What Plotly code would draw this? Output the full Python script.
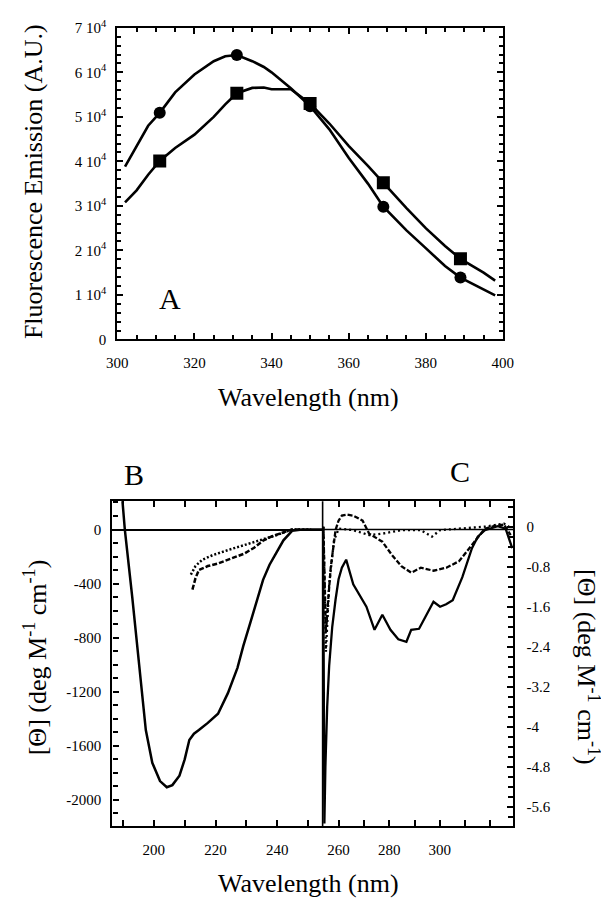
import plotly.graph_objects as go

# ---------------- Panel A data (fluorescence emission) ----------------
wl_curve = [302, 305, 308, 311, 315, 320, 325, 328, 331, 335, 338, 340, 345, 350,
            355, 360, 365, 369, 375, 380, 385, 389, 395, 398]
em_circle_curve = [3.88, 4.35, 4.80, 5.09, 5.55, 5.95, 6.25, 6.36, 6.39, 6.25, 6.12, 6.00, 5.64, 5.24,
                   4.72, 4.08, 3.50, 2.98, 2.45, 2.05, 1.65, 1.39, 1.12, 0.99]
em_square_curve = [3.08, 3.35, 3.70, 4.01, 4.30, 4.60, 5.00, 5.28, 5.53, 5.65, 5.66, 5.62, 5.62, 5.30,
                   4.85, 4.35, 3.90, 3.52, 2.95, 2.50, 2.10, 1.81, 1.50, 1.32]
wl_markers = [311, 331, 350, 369, 389]
em_circle_pts = [5.09, 6.39, 5.24, 2.98, 1.39]
em_square_pts = [4.01, 5.53, 5.30, 3.52, 1.81]
a_ytick_vals = [0, 1, 2, 3, 4, 5, 6, 7]
a_ytick_text = ["0"] + [f"{v} 10<sup>4</sup>" for v in range(1, 8)]

# ---------------- Panel B data (far-UV CD) ----------------
b_solid_wl = [189.8, 190.6, 193.0, 195.5, 197.4, 199.5, 202.0, 204.2, 206.0, 208.3, 210.0,
              211.5, 213.0, 214.6, 217.5, 220.8, 224.0, 227.1, 229.0, 231.3, 233.5, 235.4,
              237.5, 239.6, 242.0, 244.8, 248.0, 251.0, 254.5]
b_solid_th = [220, 0, -500, -1050, -1483, -1725, -1860, -1906, -1890, -1820, -1700,
              -1556, -1510, -1483, -1430, -1362, -1210, -1023, -860, -686, -510, -372,
              -260, -179, -80, -10, 0, 0, 0]
b_dot_wl = [212.0, 213.5, 215.6, 219.0, 224.0, 228.0, 232.3, 236.0, 239.6, 242.5, 244.8, 248.0, 251.0]
b_dot_th = [-333, -270, -225, -190, -152, -125, -94, -68, -43, -18, 0, 0, 0]
b_dash_wl = [212.5, 213.5, 214.6, 217.5, 220.8, 225.0, 229.2, 232.5, 235.4, 238.5, 241.6, 244.8, 248.0]
b_dash_th = [-444, -360, -299, -270, -251, -215, -179, -135, -82, -48, -22, 0, 0]

# ---------------- Panel C data (near-UV CD) ----------------
c_solid_wl = [253.9, 254.2, 254.4, 254.8, 255.5, 256.3, 257.5, 258.8, 260.0, 261.3, 263.0, 265.8,
              268.5, 271.0, 274.2, 277.3, 280.5, 283.6, 286.8, 288.7, 291.8, 294.4, 297.5,
              300.1, 302.5, 305.1, 308.9, 312.7, 315.0, 317.8, 322.9, 326.0, 328.6]
c_solid_th = [0.0, -2.5, -5.93, -4.8, -3.6, -2.77, -2.0, -1.46, -1.05, -0.82, -0.66, -1.15,
              -1.38, -1.60, -2.06, -1.76, -2.06, -2.25, -2.30, -2.06, -2.04, -1.80, -1.50,
              -1.60, -1.55, -1.47, -1.01, -0.43, -0.20, -0.07, 0.01, -0.04, -0.43]
c_dash_wl = [254.0, 254.5, 255.0, 256.0, 256.9, 258.8, 260.0, 261.3, 263.5, 265.8, 269.5, 272.1,
             277.3, 281.0, 284.8, 288.7, 292.5, 297.5, 302.6, 307.6, 312.7, 317.8, 322.0,
             325.4, 328.0]
c_dash_th = [0.0, -1.2, -2.12, -1.40, -0.82, -0.07, 0.12, 0.22, 0.24, 0.22, 0.12, -0.14,
             -0.30, -0.56, -0.79, -0.92, -0.82, -0.88, -0.82, -0.69, -0.36, -0.04, 0.02,
             0.04, -0.17]
c_dot_wl = [254.0, 254.5, 255.0, 256.3, 258.2, 260.1, 265.8, 272.1, 277.3, 284.8, 292.5, 296.9,
            300.1, 307.6, 317.8, 325.4, 327.3]
c_dot_th = [0.0, -1.4, -2.5, -1.15, -0.27, -0.04, -0.07, -0.17, -0.14, -0.07, -0.07, -0.20,
            -0.07, -0.04, 0.0, 0.06, 0.0]
c_ytick_vals = [0, -0.8, -1.6, -2.4, -3.2, -4, -4.8, -5.6]
c_ytick_text = ["0", "-0.8", "-1.6", "-2.4", "-3.2", "-4", "-4.8", "-5.6"]

W, H = 609, 899
FONT = "Liberation Serif, DejaVu Serif, serif"
BLK = "black"

fig = go.Figure()

# Panel A
fig.add_trace(go.Scatter(x=wl_curve, y=[v * 1e4 for v in em_circle_curve], mode="lines",
                         line=dict(color=BLK, width=2.6), xaxis="x", yaxis="y", showlegend=False))
fig.add_trace(go.Scatter(x=wl_curve, y=[v * 1e4 for v in em_square_curve], mode="lines",
                         line=dict(color=BLK, width=2.6), xaxis="x", yaxis="y", showlegend=False))
fig.add_trace(go.Scatter(x=wl_markers, y=[v * 1e4 for v in em_circle_pts], mode="markers",
                         marker=dict(symbol="circle", size=12, color=BLK), xaxis="x", yaxis="y",
                         showlegend=False))
fig.add_trace(go.Scatter(x=wl_markers, y=[v * 1e4 for v in em_square_pts], mode="markers",
                         marker=dict(symbol="square", size=13, color=BLK), xaxis="x", yaxis="y",
                         showlegend=False))

# Panel B
fig.add_trace(go.Scatter(x=b_solid_wl, y=b_solid_th, mode="lines", line=dict(color=BLK, width=2.5),
                         xaxis="x2", yaxis="y2", showlegend=False))
fig.add_trace(go.Scatter(x=b_dot_wl, y=b_dot_th, mode="lines",
                         line=dict(color=BLK, width=2.5, dash="2px,2px"),
                         xaxis="x2", yaxis="y2", showlegend=False))
fig.add_trace(go.Scatter(x=b_dash_wl, y=b_dash_th, mode="lines",
                         line=dict(color=BLK, width=2.5, dash="5px,2px"),
                         xaxis="x2", yaxis="y2", showlegend=False))

# Panel C
fig.add_trace(go.Scatter(x=c_solid_wl, y=c_solid_th, mode="lines", line=dict(color=BLK, width=2.3),
                         xaxis="x3", yaxis="y3", showlegend=False))
fig.add_trace(go.Scatter(x=c_dot_wl, y=c_dot_th, mode="lines",
                         line=dict(color=BLK, width=2.3, dash="2px,3px"),
                         xaxis="x3", yaxis="y3", showlegend=False))
fig.add_trace(go.Scatter(x=c_dash_wl, y=c_dash_th, mode="lines",
                         line=dict(color=BLK, width=2.3, dash="5px,2px"),
                         xaxis="x3", yaxis="y3", showlegend=False))

tickfont = dict(family=FONT, size=15, color=BLK)
common = dict(showline=True, linecolor=BLK, linewidth=2.3, ticks="inside", tickcolor=BLK,
              tickwidth=2, showgrid=False, zeroline=False, tickfont=tickfont,
              ticklabeloverflow="allow")


def px_x(p):
    return p / W


def px_y(p):
    return 1 - p / H


fig.update_layout(
    width=W, height=H,
    margin=dict(l=0, r=0, t=0, b=0),
    paper_bgcolor="white", plot_bgcolor="white",
    font=dict(family=FONT, color=BLK),
    xaxis=dict(domain=[px_x(102), px_x(502)], range=[300, 400], anchor="y",
               tickmode="linear", tick0=300, dtick=20, ticklen=6, mirror="allticks",
               ticklabelstandoff=8,
               minor=dict(ticks="inside", dtick=5, tick0=300, ticklen=4, tickcolor=BLK, tickwidth=2),
               **common),
    yaxis=dict(domain=[px_y(328), px_y(10)], range=[0, 70000], anchor="x",
               tickmode="array", tickvals=[v * 1e4 for v in a_ytick_vals], ticktext=a_ytick_text,
               ticklen=6, mirror="allticks", ticklabelstandoff=6,
               minor=dict(ticks="inside", dtick=2000, tick0=0, ticklen=4, tickcolor=BLK, tickwidth=2),
               **common),
    xaxis2=dict(domain=[px_x(97), px_x(315)], range=[186.6, 254.7], anchor="y2",
                tickmode="linear", tick0=200, dtick=20, ticklen=6, mirror="allticks",
                ticklabelstandoff=8,
                minor=dict(ticks="inside", dtick=10, tick0=200, ticklen=6, tickcolor=BLK, tickwidth=2),
                **common),
    yaxis2=dict(domain=[px_y(825), px_y(493)], range=[-2196, 210], anchor="x2",
                tickmode="array", tickvals=[0, -400, -800, -1200, -1600, -2000],
                ticktext=["0", "-400", "-800", "-1200", "-1600", "-2000"],
                ticklen=6, ticklabelstandoff=6,
                minor=dict(ticks="inside", dtick=100, tick0=0, ticklen=5, tickcolor=BLK, tickwidth=2),
                **{**common, "zeroline": True}, zerolinecolor=BLK, zerolinewidth=1.6),
    xaxis3=dict(domain=[px_x(315), px_x(513)], range=[253.7, 329.1], anchor="y3",
                tickmode="array", tickvals=[260, 280, 300], ticklen=6, mirror="allticks",
                ticklabelstandoff=8,
                minor=dict(ticks="inside", dtick=10, tick0=250, ticklen=6, tickcolor=BLK, tickwidth=2),
                **common),
    yaxis3=dict(domain=[px_y(825), px_y(493)], range=[-5.99, 0.51], anchor="x3", side="right",
                tickmode="array", tickvals=c_ytick_vals, ticktext=c_ytick_text,
                ticklen=6, ticklabelstandoff=8,
                minor=dict(ticks="inside", dtick=0.2, tick0=0, ticklen=5, tickcolor=BLK, tickwidth=2),
                **common),
)

# separator between B and C and the zero line over C
fig.add_shape(type="line", xref="x3 domain", yref="y3 domain", x0=0, x1=0, y0=0, y1=1,
              line=dict(color=BLK, width=1.6))
fig.add_shape(type="line", xref="x3 domain", yref="y2", x0=0, x1=1, y0=0, y1=0,
              line=dict(color=BLK, width=1.6))

title_font = dict(family=FONT, size=26, color=BLK)
letter_font = dict(family=FONT, size=30, color=BLK)


def ann(text, x, y, font, angle=0):
    fig.add_annotation(text=text, xref="paper", yref="paper", x=px_x(x), y=px_y(y),
                       xanchor="center", yanchor="middle", showarrow=False, font=font,
                       textangle=angle)


ann("Wavelength (nm)", 300, 387, title_font)
ann("Fluorescence Emission (A.U.)", 15, 167, title_font, -90)
ann("A", 157, 286, letter_font)
ann("B", 119, 466, letter_font)
ann("C", 458, 463, letter_font)
ann("[Θ] (deg M<sup>-1</sup> cm<sup>-1</sup>)", 18, 652, title_font, -90)
ann("[Θ] (deg M<sup>-1</sup> cm<sup>-1</sup>)", 590, 662, title_font, 90)
ann("Wavelength (nm)", 300, 883, title_font)

fig.write_html("out.html")
